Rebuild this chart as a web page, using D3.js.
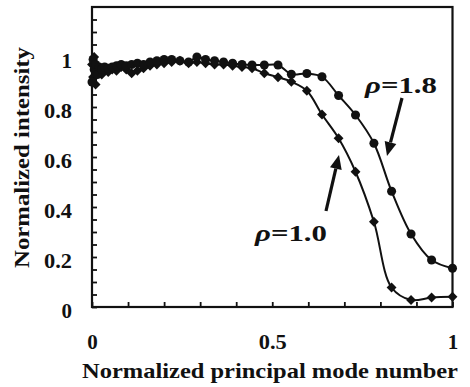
<!DOCTYPE html>
<html>
<head>
<meta charset="utf-8">
<script src="https://cdn.jsdelivr.net/npm/d3@7/dist/d3.min.js"></script>
<style>
  html, body { margin: 0; padding: 0; background: #fff; }
  svg { display: block; }
</style>
</head>
<body>
<svg id="chart" width="470" height="387"></svg>
<script>
// Normalized principal mode number (shared by both curves)
const modeNumber = [
  0, 0.003, 0.006, 0.01, 0.015, 0.02, 0.027, 0.035, 0.045, 0.056,
  0.068, 0.081, 0.095, 0.11, 0.126, 0.143, 0.161, 0.18, 0.2, 0.221,
  0.244, 0.268, 0.291, 0.315, 0.34, 0.365, 0.39, 0.416, 0.444, 0.478,
  0.516, 0.553, 0.596, 0.638, 0.684, 0.731, 0.782, 0.831, 0.885, 0.942, 1.0
];
// Normalized intensity, rho = 1.0 (diamonds)
const intensityRho10 = [
  0.97, 0.92, 1.0, 0.89, 0.95, 0.94, 0.93, 0.945, 0.94, 0.95,
  0.945, 0.96, 0.95, 0.935, 0.945, 0.955, 0.965, 0.97, 0.975, 0.98,
  0.985, 0.975, 0.98, 0.975, 0.97, 0.97, 0.965, 0.96, 0.955, 0.935,
  0.919, 0.901, 0.865, 0.77, 0.675, 0.541, 0.341, 0.078, 0.028, 0.038, 0.041
];
// Normalized intensity, rho = 1.8 (circles)
const intensityRho18 = [
  0.90, 0.99, 0.95, 0.97, 0.93, 0.96, 0.95, 0.96, 0.955, 0.96,
  0.965, 0.97, 0.965, 0.97, 0.975, 0.97, 0.98, 0.985, 0.99, 0.99,
  0.985, 0.98, 1.0, 0.99, 0.985, 0.98, 0.975, 0.97, 0.968, 0.968,
  0.968, 0.931, 0.934, 0.921, 0.846, 0.768, 0.655, 0.463, 0.292, 0.188, 0.155
];
const xTickValues = [0, 0.1, 0.2, 0.3, 0.4, 0.5, 0.6, 0.7, 0.8, 0.9, 1.0];
const xTickLabels = [0, 0.5, 1];
const yTickValues = [0, 0.05, 0.1, 0.15, 0.2, 0.25, 0.3, 0.35, 0.4, 0.45, 0.5, 0.55,
                     0.6, 0.65, 0.7, 0.75, 0.8, 0.85, 0.9, 0.95, 1.0, 1.05, 1.1, 1.15];
const yTickLabels = [0, 0.2, 0.4, 0.6, 0.8, 1];

const FONT = "'Liberation Serif', 'Times New Roman', Tinos, serif";
const INK = "#111";

const svg = d3.select("#chart");
const x = d3.scaleLinear().domain([0, 1]).range([92, 452.5]);
const y = d3.scaleLinear().domain([0, 1.2]).range([307, 7]);

const fmt = d => (d === 0 || d === 1) ? String(d) : d3.format(".1f")(d);
const styleText = sel => sel
  .attr("font-family", FONT).attr("font-weight", "bold").attr("fill", INK)
  .style("font-family", FONT).style("font-weight", "bold");
// wide bold digits: stretch multi-character labels horizontally
const widen = sel => sel.each(function (d) {
  const s = fmt(d);
  if (s.length > 1) d3.select(this).attr("textLength", 28).attr("lengthAdjust", "spacingAndGlyphs");
});

// inward tick marks
svg.append("g")
  .attr("transform", `translate(0,${y(0)})`)
  .call(d3.axisBottom(x).tickValues(xTickValues).tickSize(-5).tickFormat(""))
  .call(g => g.select(".domain").remove())
  .call(g => g.selectAll("line").attr("stroke", INK).attr("stroke-width", 1.8));

svg.append("g")
  .attr("transform", `translate(${x(0)},0)`)
  .call(d3.axisLeft(y).tickValues(yTickValues).tickSize(-5).tickFormat(""))
  .call(g => g.select(".domain").remove())
  .call(g => g.selectAll("line").attr("stroke", INK).attr("stroke-width", 1.8));

// tick labels
svg.append("g")
  .attr("transform", `translate(0,${y(0)})`)
  .call(d3.axisBottom(x).tickValues(xTickLabels).tickSize(0).tickPadding(27).tickFormat(fmt))
  .call(g => g.select(".domain").remove())
  .call(g => g.attr("font-family", FONT))
  .call(g => g.selectAll("text").attr("font-size", 21).call(styleText).call(widen));

svg.append("g")
  .attr("transform", `translate(${x(0)},0)`)
  .call(d3.axisLeft(y).tickValues(yTickLabels).tickSize(0).tickPadding(20).tickFormat(fmt))
  .call(g => g.select(".domain").remove())
  .call(g => g.attr("font-family", FONT))
  .call(g => g.selectAll("text").attr("font-size", 21).attr("dy", "0.5em").call(styleText).call(widen));

// plot frame
svg.append("rect")
  .attr("x", x(0)).attr("y", y(1.2))
  .attr("width", x(1) - x(0)).attr("height", y(0) - y(1.2))
  .attr("fill", "none").attr("stroke", INK).attr("stroke-width", 2.2);

// curves
const line = d3.line().x(d => x(d[0])).y(d => y(d[1])).curve(d3.curveCatmullRom.alpha(0.5));
const series = [
  { values: intensityRho10, symbol: d3.symbolDiamond2, size: 62 },
  { values: intensityRho18, symbol: d3.symbolCircle, size: 64 }
];
series.forEach(s => {
  const pts = modeNumber.map((m, i) => [m, s.values[i]]);
  svg.append("path").datum(pts)
    .attr("d", line).attr("fill", "none").attr("stroke", INK).attr("stroke-width", 2);
  svg.append("g").selectAll("path").data(pts).join("path")
    .attr("transform", d => `translate(${x(d[0])},${y(d[1])})`)
    .attr("d", d3.symbol(s.symbol, s.size))
    .attr("fill", INK);
});

// annotation arrows
function arrow(x1, y1, x2, y2) {
  const ang = Math.atan2(y2 - y1, x2 - x1);
  const hl = 14, hw = 6;
  const bx = x2 - hl * Math.cos(ang), by = y2 - hl * Math.sin(ang);
  const px = -Math.sin(ang) * hw, py = Math.cos(ang) * hw;
  const g = svg.append("g");
  const head = `M${x2},${y2}L${bx + px},${by + py}L${bx - px},${by - py}Z`;
  g.append("line").attr("x1", x1).attr("y1", y1).attr("x2", bx).attr("y2", by)
    .attr("stroke", "#fff").attr("stroke-width", 7);
  g.append("path").attr("d", head).attr("fill", "#fff").attr("stroke", "#fff").attr("stroke-width", 4);
  g.append("line").attr("x1", x1).attr("y1", y1).attr("x2", bx).attr("y2", by)
    .attr("stroke", INK).attr("stroke-width", 3.2);
  g.append("path").attr("d", head).attr("fill", INK);
}
arrow(402, 98, 387, 156);
arrow(326, 211, 339, 155);

function rhoLabel(xp, yp, val) {
  const t = svg.append("text").attr("x", xp).attr("y", yp).attr("font-size", 23)
    .attr("textLength", 72).attr("lengthAdjust", "spacingAndGlyphs").call(styleText);
  t.append("tspan").attr("font-style", "italic").style("font-style", "italic").text("ρ");
  t.append("tspan").text("=" + val);
}
rhoLabel(365, 93, "1.8");
rhoLabel(255, 241, "1.0");

// axis titles
svg.append("text")
  .attr("x", 270).attr("y", 378).attr("text-anchor", "middle").attr("font-size", 21)
  .attr("textLength", 376).attr("lengthAdjust", "spacingAndGlyphs")
  .call(styleText)
  .text("Normalized principal mode number");
svg.append("text")
  .attr("transform", "translate(29,157.5) rotate(-90)")
  .attr("text-anchor", "middle").attr("font-size", 21)
  .attr("textLength", 221).attr("lengthAdjust", "spacingAndGlyphs")
  .call(styleText)
  .text("Normalized intensity");
</script>
</body>
</html>
